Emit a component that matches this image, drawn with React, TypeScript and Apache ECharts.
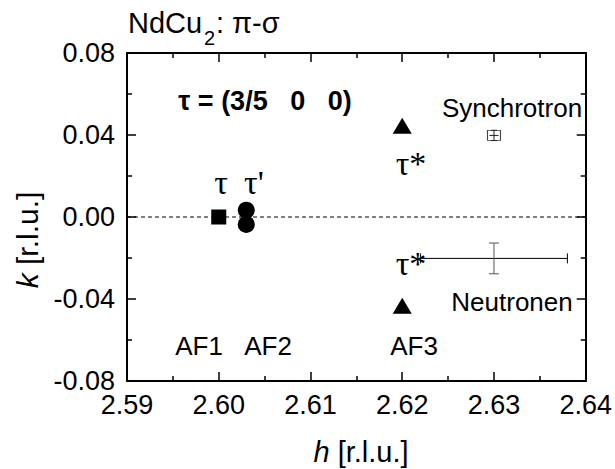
import React, { useEffect, useRef } from "react";
import * as echarts from "echarts";

const xTicks = [2.59, 2.6, 2.61, 2.62, 2.63, 2.64];
const yTicks = [-0.08, -0.04, 0.0, 0.04, 0.08];
const af1Points = [[2.6, 0.0]];
const af2Points = [[2.603, 0.0033], [2.603, -0.0036]];
const af3Points = [[2.62, 0.0445], [2.62, -0.0433]];
const synchrotronPoint = [[2.63, 0.0398]];
// [h, k, hErr, kErr]
const synchrotronErr = [[2.63, 0.0398, 0.0005, 0.0025]];
const neutronErr = [[2.63, -0.0202, 0.008, 0.0075]];
const zeroLine = [[2.59, 0], [2.64, 0]];

const SANS = "'Liberation Sans', Arial, sans-serif";
const SERIF = "'Liberation Serif', 'Times New Roman', serif";

function errRender(hColor: string, vColor: string, capH: number, capV: number) {
  return (params: any, api: any) => {
    const h = api.value(0), k = api.value(1), dh = api.value(2), dk = api.value(3);
    const l = api.coord([h - dh, k]);
    const r = api.coord([h + dh, k]);
    const t = api.coord([h, k + dk]);
    const b = api.coord([h, k - dk]);
    const hs = { stroke: hColor, lineWidth: 1 };
    const vs = { stroke: vColor, lineWidth: 1 };
    return {
      type: "group",
      children: [
        { type: "line", shape: { x1: l[0], y1: l[1], x2: r[0], y2: r[1] }, style: hs },
        { type: "line", shape: { x1: l[0], y1: l[1] - capH, x2: l[0], y2: l[1] + capH }, style: hs },
        { type: "line", shape: { x1: r[0], y1: r[1] - capH, x2: r[0], y2: r[1] + capH }, style: hs },
        { type: "line", shape: { x1: t[0], y1: t[1], x2: b[0], y2: b[1] }, style: vs },
        { type: "line", shape: { x1: t[0] - capV, y1: t[1], x2: t[0] + capV, y2: t[1] }, style: vs },
        { type: "line", shape: { x1: b[0] - capV, y1: b[1], x2: b[0] + capV, y2: b[1] }, style: vs },
      ],
    };
  };
}

export default function App() {
  const ref = useRef<HTMLDivElement>(null);
  useEffect(() => {
    if (!ref.current) return;
    const chart = echarts.init(ref.current, null, { renderer: "svg" });
    const axisCommon = {
      type: "value" as const,
      axisLine: { show: true, onZero: false, lineStyle: { color: "#000", width: 2 } },
      axisTick: { show: true, inside: true, length: 9, lineStyle: { color: "#000", width: 1.5 } },
      minorTick: { show: true, splitNumber: 2, length: 5, lineStyle: { color: "#000", width: 1.5 } },
      splitLine: { show: false },
      minorSplitLine: { show: false },
    };
    const xLabel = {
      show: true,
      fontSize: 27,
      color: "#000",
      fontFamily: SANS,
      margin: 10,
      formatter: (v: number) => v.toFixed(2),
    };
    const yLabel = {
      show: true,
      fontSize: 27,
      color: "#000",
      fontFamily: SANS,
      margin: 12,
      formatter: (v: number) => v.toFixed(2),
    };
    const t = (x: number, y: number, text: string, font: string, align = "center") => ({
      type: "text",
      x,
      y,
      style: { text, font, fill: "#000", textAlign: align, textVerticalAlign: "middle" },
    });
    chart.setOption({
      animation: false,
      backgroundColor: "#fff",
      grid: { left: 127, right: 27, top: 53, bottom: 88, containLabel: false },
      xAxis: [
        { ...axisCommon, position: "bottom", min: xTicks[0], max: xTicks[xTicks.length - 1], interval: 0.01, axisLabel: xLabel },
        { ...axisCommon, position: "top", min: xTicks[0], max: xTicks[xTicks.length - 1], interval: 0.01, axisLabel: { show: false } },
      ],
      yAxis: [
        { ...axisCommon, position: "left", min: yTicks[0], max: yTicks[yTicks.length - 1], interval: 0.04, axisLabel: yLabel },
        { ...axisCommon, position: "right", min: yTicks[0], max: yTicks[yTicks.length - 1], interval: 0.04, axisLabel: { show: false } },
      ],
      series: [
        {
          type: "line",
          data: zeroLine,
          symbol: "none",
          lineStyle: { color: "#000", width: 1, type: [4, 3] },
          silent: true,
          z: 1,
        },
        {
          type: "scatter",
          data: af1Points,
          symbol: "rect",
          symbolSize: 15,
          itemStyle: { color: "#000", opacity: 1 },
          z: 3,
        },
        {
          type: "scatter",
          data: af2Points,
          symbol: "circle",
          symbolSize: 17,
          itemStyle: { color: "#000", opacity: 1 },
          z: 3,
        },
        {
          type: "scatter",
          data: af3Points,
          symbol: "triangle",
          symbolSize: [19, 16],
          itemStyle: { color: "#000", opacity: 1 },
          z: 3,
        },
        {
          type: "scatter",
          data: synchrotronPoint,
          symbol: "rect",
          symbolSize: [13, 10],
          itemStyle: { color: "#fff", borderColor: "#444", borderWidth: 1, opacity: 1 },
          z: 3,
        },
        {
          type: "custom",
          data: synchrotronErr,
          renderItem: errRender("#222", "#222", 0, 3),
          z: 4,
        },
        {
          type: "custom",
          data: neutronErr,
          renderItem: errRender("#000", "#555", 5, 5),
          z: 4,
        },
      ],
      graphic: [
        t(128, 23, "NdCu", `29px ${SANS}`, "left"),
        t(204, 38, "2", `20px ${SANS}`, "left"),
        t(216, 23, ": π-σ", `29px ${SANS}`, "left"),
        t(265, 101, "τ = (3/5   0   0)", `bold 27px ${SANS}`),
        t(221, 182, "τ", `34px ${SERIF}`),
        t(254, 182, "τ'", `34px ${SERIF}`),
        t(411, 163, "τ*", `34px ${SERIF}`),
        t(411, 263, "τ*", `34px ${SERIF}`),
        t(512, 108, "Synchrotron", `26px ${SANS}`),
        t(512, 302, "Neutronen", `26px ${SANS}`),
        t(199, 346, "AF1", `26px ${SANS}`),
        t(268, 346, "AF2", `26px ${SANS}`),
        t(414, 346, "AF3", `26px ${SANS}`),
        {
          type: "text",
          x: 27,
          y: 240,
          rotation: Math.PI / 2,
          style: {
            text: "{i|k} [r.l.u.]",
            font: `30px ${SANS}`,
            fill: "#000",
            textAlign: "center",
            textVerticalAlign: "middle",
            rich: { i: { fontStyle: "italic", fontSize: 30, fontFamily: SANS, fill: "#000" } },
          },
        },
        {
          type: "text",
          x: 361,
          y: 452,
          style: {
            text: "{i|h} [r.l.u.]",
            font: `29px ${SANS}`,
            fill: "#000",
            textAlign: "center",
            textVerticalAlign: "middle",
            rich: { i: { fontStyle: "italic", fontSize: 29, fontFamily: SANS, fill: "#000" } },
          },
        },
      ],
    });
    return () => chart.dispose();
  }, []);
  return <div ref={ref} style={{ width: 615, height: 469, position: "absolute", left: 0, top: 0 }} />;
}
